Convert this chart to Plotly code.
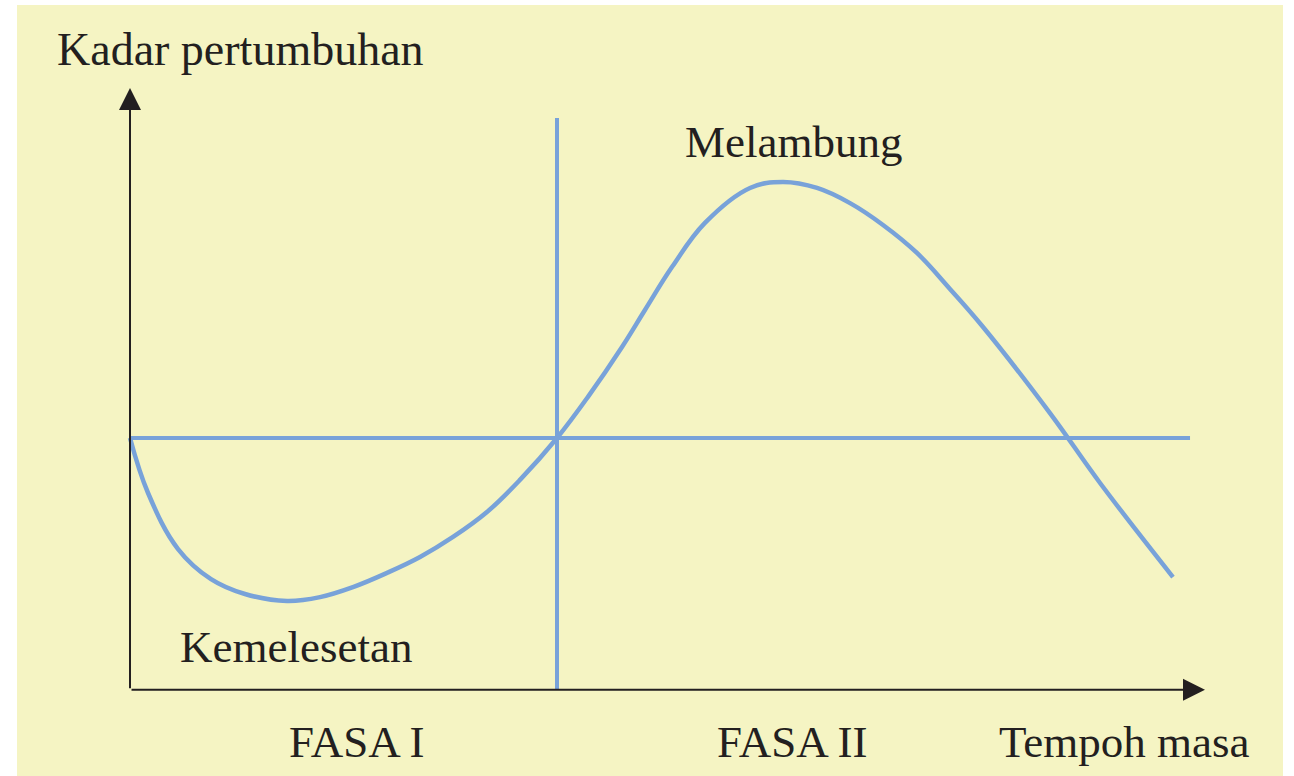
import plotly.graph_objects as go

# Business-cycle curve (time units, growth-rate units)
time_pts = [0.0, 0.169, 0.450, 0.759, 1.077, 1.471,
            1.780, 2.089, 2.407, 2.717, 3.026, 3.344, 3.653, 4.0,
            4.290, 4.609, 4.824, 5.077, 5.386, 5.808, 6.117, 6.436,
            6.745, 7.054, 7.372, 7.681, 7.991, 8.618, 9.087, 9.770]
growth_pts = [0.0, -2.14, -4.32, -5.49, -6.07, -6.34,
              -6.19, -5.80, -5.25, -4.63, -3.85, -2.88, -1.63, 0.0,
              1.60, 3.54, 4.98, 6.65, 8.37, 9.73, 9.96, 9.73,
              9.14, 8.29, 7.20, 5.80, 4.32, 0.97, -1.75, -5.41]

zero_line_x = [0.0, 9.93]
zero_line_y = [0.0, 0.0]
phase_split_x = [4.0, 4.0]
phase_split_y = [-9.8, 12.45]

axis_origin = (0.0, -9.8)
x_axis_tip = 10.07
y_axis_tip = 13.62

labels = {
    "y_title": "Kadar pertumbuhan",
    "x_title": "Tempoh masa",
    "peak": "Melambung",
    "trough": "Kemelesetan",
    "phase1": "FASA I",
    "phase2": "FASA II",
}

BLUE = "#78A2D9"
INK = "#231F20"
FONT = "Liberation Serif"

fig = go.Figure()
fig.add_trace(go.Scatter(x=zero_line_x, y=zero_line_y, mode="lines",
                         line=dict(color=BLUE, width=4), hoverinfo="skip"))
fig.add_trace(go.Scatter(x=phase_split_x, y=phase_split_y, mode="lines",
                         line=dict(color=BLUE, width=4), hoverinfo="skip"))
fig.add_trace(go.Scatter(x=time_pts, y=growth_pts, mode="lines",
                         line=dict(color=BLUE, width=4.5, shape="spline", smoothing=1.1),
                         hoverinfo="skip"))

# axes with arrowheads
fig.add_annotation(x=x_axis_tip, y=axis_origin[1], ax=axis_origin[0], ay=axis_origin[1],
                   xref="x", yref="y", axref="x", ayref="y", text="", showarrow=True,
                   arrowhead=2, arrowsize=2.2, arrowwidth=2, arrowcolor=INK)
fig.add_annotation(x=axis_origin[0], y=y_axis_tip, ax=axis_origin[0], ay=axis_origin[1],
                   xref="x", yref="y", axref="x", ayref="y", text="", showarrow=True,
                   arrowhead=2, arrowsize=2.2, arrowwidth=2, arrowcolor=INK)

W, H = 1294, 776

def label(text, left_px, mid_px, size=45):
    fig.add_annotation(x=left_px / W, y=1 - mid_px / H, xref="paper", yref="paper",
                       text=text, showarrow=False, xanchor="left", yanchor="middle",
                       font=dict(family=FONT, size=size, color=INK))

label(labels["y_title"], 55, 50, 46)
label(labels["peak"], 683, 142)
label(labels["trough"], 178, 647)
label(labels["phase1"], 287, 742)
label(labels["phase2"], 715, 742)
label(labels["x_title"], 997, 742)

fig.add_shape(type="rect", xref="paper", yref="paper", x0=17 / W, x1=1283 / W,
              y0=0, y1=1 - 5 / H, fillcolor="#F5F4C3", line_width=0, layer="below")

fig.update_layout(
    width=W, height=H, margin=dict(l=0, r=0, t=0, b=0),
    paper_bgcolor="white", plot_bgcolor="rgba(0,0,0,0)", showlegend=False,
    xaxis=dict(range=[-1.2178, 10.904], visible=False, fixedrange=True),
    yaxis=dict(range=[-13.152, 17.043], visible=False, fixedrange=True),
)

fig.write_html("out.html", config={"displayModeBar": False},
               post_script="document.body.style.margin='0px';")
